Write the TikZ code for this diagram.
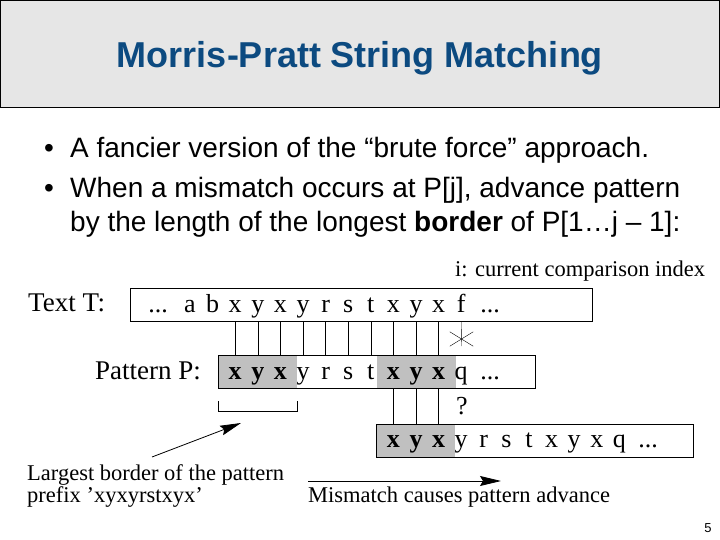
\documentclass[tikz,border=0pt]{standalone}
\usepackage{fontspec}
\setmainfont{Liberation Serif}
\setsansfont{Liberation Sans}
\usetikzlibrary{arrows.meta,shapes.misc}
\definecolor{titleBlue}{RGB}{12,74,128}
\definecolor{headGray}{RGB}{230,230,230}
\definecolor{prefixGray}{RGB}{192,192,192}

\begin{document}
\begin{tikzpicture}[
    x=1pt, y=-1pt,
    % Styles
    header/.style={
        draw=black,
        fill=headGray,
        minimum width=719pt,
        minimum height=107pt,
        inner sep=0pt
    },
    bullet/.style={
        anchor=base west,
        inner sep=0pt,
        font=\sffamily\fontsize{28}{33}\selectfont
    },
    strbox/.style={
        draw,
        line width=0.8pt,
        minimum height=33pt,
        inner sep=0pt
    },
    brdfill/.style={
        fill=prefixGray,
        minimum width=79pt,
        minimum height=33pt,
        inner sep=0pt
    },
    chr/.style={anchor=base, inner sep=0pt, font=\fontsize{26}{30}\selectfont},
    lbl/.style={anchor=base west, inner sep=0pt, font=\fontsize{22.5}{27}\selectfont},
    biglbl/.style={anchor=base west, inner sep=0pt, font=\fontsize{27}{31}\selectfont},
    arrow/.style={-{Stealth[length=21pt,width=10pt,inset=3pt]}, line width=0.8pt}
]
    \useasboundingbox (0,0) rectangle (720,540);

    % ---------------------------------------------------------
    % 1. TITLE AND BULLETS
    % ---------------------------------------------------------
    \node[header] (head) at (360,54) {};
    \node[text=titleBlue, font=\sffamily\bfseries\fontsize{36}{40}\selectfont, anchor=base] (title) at (360,68) {Morris-Pratt String Matching};

    \node[bullet] (b1) at (44,158) {\textbullet};
    \node[bullet] (line1) at (70,158) {A fancier version of the “brute force” approach.};
    \node[bullet] (b2) at (44,197) {\textbullet};
    \node[bullet] (line2) at (70,197) {When a mismatch occurs at P[j], advance pattern};
    \node[bullet] (line3) at (70,231) {by the length of the longest \textbf{border} of P[1…j – 1]:};

    % ---------------------------------------------------------
    % 2. TEXT T
    % ---------------------------------------------------------
    \node[lbl] (idx) at (455,276) {i: current comparison index};
    \node[biglbl] (lblT) at (28,311) {Text T:};
    \node[strbox, minimum width=462pt] (textT) at (361,304.5) {};
    \node[chr] (tdL) at (158,312) {...};
    \foreach \c [count=\k from 0] in {a,b,x,y,x,y,r,s,t,x,y,x,f}
        \node[chr] (t\k) at (190+22.6*\k,312) {\c};
    \node[chr] (tdR) at (490,312) {...};

    % ---------------------------------------------------------
    % 3. PATTERN P (first alignment)
    % ---------------------------------------------------------
    \node[biglbl] (lblP) at (95,379) {Pattern P:};
    \node[brdfill] (preP) at (257.5,371.5) {};
    \node[brdfill] (preM) at (416,371.5) {};
    \node[strbox, minimum width=317pt, anchor=west] (patP) at (preP.west) {};
    \foreach \c [count=\k from 2] in {\textbf{x},\textbf{y},\textbf{x},y,r,s,t,\textbf{x},\textbf{y},\textbf{x},q}
        \node[chr] (p\k) at (190+22.6*\k,379) {\c};
    \node[chr] (pd) at (490,379) {...};

    % ---------------------------------------------------------
    % 4. PATTERN P (after the advance)
    % ---------------------------------------------------------
    \node[brdfill] (preS) at (415.5,440.5) {};
    \node[strbox, minimum width=317pt, anchor=west] (patS) at (preS.west) {};
    \foreach \c [count=\k from 9] in {\textbf{x},\textbf{y},\textbf{x},y,r,s,t,x,y,x,q}
        \node[chr] (s\k) at (190+22.6*\k,447) {\c};
    \node[chr] (sd) at (648,447) {...};

    % ---------------------------------------------------------
    % CONNECTIONS
    % ---------------------------------------------------------
    % Matched characters
    \foreach \k in {2,...,11}
        \draw (t\k |- textT.south) -- (p\k |- patP.north);

    % Mismatch at i
    \node[cross out, draw, minimum width=23pt, minimum height=14pt, inner sep=0pt] (cross) at (461.5,339) {};
    \draw (t12 |- textT.south) -- (cross.south);
    \node[chr, anchor=center] (qmark) at (462,406) {?};

    % Border carried over
    \foreach \k in {9,10,11}
        \draw (p\k |- patP.south) -- (s\k |- patS.north);

    % Bracket under the border
    \draw ([yshift=-13pt]preP.south west) -- ([yshift=-23pt]preP.south west)
        -- ([yshift=-23pt]preP.south east) -- ([yshift=-13pt]preP.south east);

    % ---------------------------------------------------------
    % 5. NOTES AT THE BOTTOM
    % ---------------------------------------------------------
    \node[lbl] (note1) at (27,480) {Largest border of the pattern};
    \node[lbl] (note2) at (27,502) {prefix 'xyxyrstxyx'};
    \coordinate (brdTail) at (152,457);
    \coordinate (brdTip) at (241,423);
    \draw[arrow] (brdTail) -- (brdTip);

    \node[lbl] (advance) at (308,502) {Mismatch causes pattern advance};
    \coordinate (advTail) at (308,481);
    \coordinate (advTip) at (501,481);
    \draw[arrow] (advTail) -- (advTip);

    \node[font=\sffamily\fontsize{13}{15}\selectfont] (pgnum) at (708,528) {5};

\end{tikzpicture}
\end{document}
